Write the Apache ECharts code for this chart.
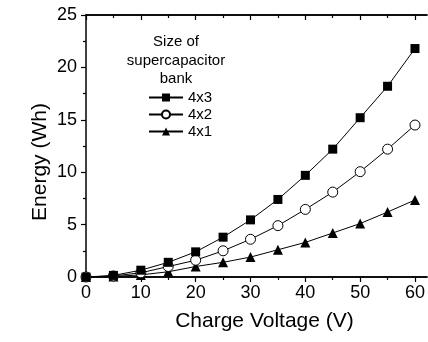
<!DOCTYPE html>
<html>
<head>
<meta charset="utf-8">
<script src="https://cdn.jsdelivr.net/npm/echarts@6/dist/echarts.min.js"></script>
<style>
  html, body { margin: 0; padding: 0; background: #fff; }
  #chart { width: 428px; height: 342px; }
</style>
</head>
<body>
<div id="chart"></div>
<script>
// Charge voltage (V) and stored energy (Wh) for three bank sizes
const voltages = [0, 5, 10, 15, 20, 25, 30, 35, 40, 45, 50, 55, 60];
const energy4x3 = [0, 0.15, 0.65, 1.4, 2.4, 3.8, 5.45, 7.4, 9.7, 12.2, 15.2, 18.2, 21.8];
const energy4x2 = [0, 0.1, 0.4, 1.0, 1.6, 2.5, 3.6, 4.9, 6.45, 8.1, 10.05, 12.2, 14.5];
const energy4x1 = [0, 0.05, 0.2, 0.5, 1.0, 1.4, 1.9, 2.6, 3.3, 4.2, 5.1, 6.2, 7.35];
const bankNames = ['4x3', '4x2', '4x1'];
const xTicks = [0, 10, 20, 30, 40, 50, 60];
const xMinorTicks = [5, 15, 25, 35, 45, 55];
const yTicks = [0, 5, 10, 15, 20, 25];

const FONT = 'Liberation Sans, Arial, Helvetica, sans-serif';
const X_MAX = 62.18; // axis continues a little past 60 V to the canvas edge
const pairs = (ys) => voltages.map((v, i) => [v, ys[i]]);

const chart = echarts.init(document.getElementById('chart'), null, { renderer: 'canvas' });

const tickLine = { color: '#000', width: 1.2 };
function xAxisDef(position, values, len, inside, extra) {
  return Object.assign({
    type: 'value',
    position: position,
    min: 0,
    max: X_MAX,
    splitLine: { show: false },
    axisLine: { show: true, onZero: false, lineStyle: { color: '#000', width: 1.5 } },
    axisTick: { show: true, inside: inside, length: len, customValues: values, lineStyle: tickLine },
    axisLabel: { show: false },
    minorTick: { show: false }
  }, extra || {});
}

chart.setOption({
  animation: false,
  backgroundColor: '#fff',
  textStyle: { fontFamily: FONT, color: '#000' },
  title: {
    text: 'Size of\nsupercapacitor\nbank',
    left: 176,
    top: 33,
    padding: 0,
    textAlign: 'center',
    textStyle: { fontFamily: FONT, fontSize: 15, fontWeight: 'normal', color: '#000', lineHeight: 18.5 }
  },
  legend: {
    data: bankNames,
    orient: 'vertical',
    left: 148,
    top: 90,
    padding: 0,
    itemWidth: 34,
    itemHeight: 10,
    itemGap: 2,
    textStyle: { fontFamily: FONT, fontSize: 15, color: '#000', lineHeight: 15 }
  },
  grid: { left: 86, top: 15, right: 0, bottom: 65, containLabel: false },
  xAxis: [
    xAxisDef('bottom', xTicks, 5, false, {
      name: 'Charge Voltage (V)',
      nameLocation: 'middle',
      nameGap: 34,
      nameTextStyle: { fontFamily: FONT, fontSize: 21, color: '#000', padding: [0, 0, 0, 16] },
      axisLabel: {
        show: true, margin: 7, fontFamily: FONT, fontSize: 18, color: '#000',
        customValues: xTicks
      }
    }),
    xAxisDef('bottom', xMinorTicks, 3, false),
    xAxisDef('top', xTicks, 5, true),
    xAxisDef('top', xMinorTicks, 3, true)
  ],
  yAxis: {
    type: 'value',
    min: 0,
    max: 25,
    interval: 5,
    name: 'Energy (Wh)',
    nameLocation: 'middle',
    nameGap: 35,
    nameMoveOverlap: false,
    nameTextStyle: { fontFamily: FONT, fontSize: 21, color: '#000', padding: [0, 32, 0, 0] },
    splitLine: { show: false },
    axisLine: { show: true, onZero: false, lineStyle: { color: '#000', width: 1.5 } },
    axisTick: { show: true, length: 5, lineStyle: tickLine },
    minorTick: { show: true, splitNumber: 2, length: 3, lineStyle: tickLine },
    axisLabel: {
      margin: 9, fontFamily: FONT, fontSize: 18, color: '#000',
      formatter: (v) => (yTicks.indexOf(v) >= 0 ? String(v) : '')
    }
  },
  series: [
    {
      name: bankNames[0], type: 'line', data: pairs(energy4x3),
      symbol: 'rect', symbolSize: 9, z: 4,
      lineStyle: { color: '#000', width: 1 },
      itemStyle: { color: '#000', borderColor: '#000', borderWidth: 0 }
    },
    {
      name: bankNames[1], type: 'line', data: pairs(energy4x2),
      symbol: 'circle', symbolSize: 10, z: 3,
      lineStyle: { color: '#000', width: 1 },
      itemStyle: { color: '#fff', borderColor: '#000', borderWidth: 1 }
    },
    {
      name: bankNames[2], type: 'line', data: pairs(energy4x1),
      symbol: 'triangle', symbolSize: 10, z: 2,
      lineStyle: { color: '#000', width: 1 },
      itemStyle: { color: '#000', borderColor: '#000', borderWidth: 0 }
    }
  ]
});
</script>
</body>
</html>
